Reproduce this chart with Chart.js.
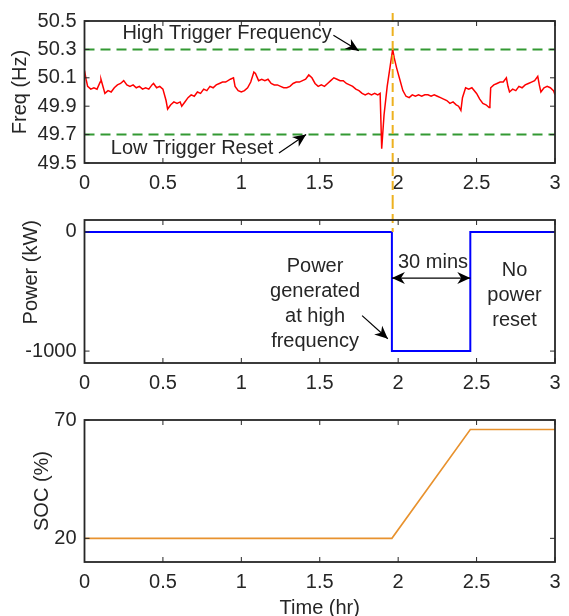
<!DOCTYPE html>
<html>
<head>
<meta charset="utf-8">
<script src="https://cdn.jsdelivr.net/npm/chart.js@4.4.1/dist/chart.umd.min.js"></script>
<style>
  html, body { margin: 0; padding: 0; background: #fff; overflow: hidden; }
  #wrap { position: relative; width: 569px; height: 616px; }
  .panel { position: absolute; left: 0; width: 569px; }
</style>
</head>
<body>
<div id="wrap">
  <div class="panel" style="top:0;height:200px"><canvas id="chart-freq"></canvas></div>
  <div class="panel" style="top:200px;height:200px"><canvas id="chart-power"></canvas></div>
  <div class="panel" style="top:400px;height:220px"><canvas id="chart-soc"></canvas></div>
</div>
<script>
// grid frequency trace (hr, Hz)
const TIME_FREQ = [
  0.00, 0.01, 0.02, 0.04, 0.06, 0.08, 0.10, 0.105, 0.12, 0.13, 0.15, 0.17, 0.19, 0.21, 0.23, 0.25,
  0.27, 0.29, 0.31, 0.33, 0.35, 0.37, 0.39, 0.41, 0.43, 0.44, 0.46, 0.48, 0.50, 0.52, 0.53, 0.55,
  0.57, 0.59, 0.61, 0.62, 0.64, 0.66, 0.68, 0.70, 0.72, 0.74, 0.76, 0.78, 0.80, 0.82, 0.84, 0.86,
  0.88, 0.90, 0.93, 0.95, 0.96, 0.98, 1.00, 1.02, 1.04, 1.06, 1.08, 1.09, 1.11, 1.13, 1.15, 1.17,
  1.19, 1.21, 1.23, 1.25, 1.27, 1.29, 1.31, 1.33, 1.35, 1.37, 1.39, 1.41, 1.43, 1.45, 1.47, 1.49,
  1.51, 1.53, 1.55, 1.57, 1.59, 1.61, 1.63, 1.65, 1.67, 1.69, 1.71, 1.73, 1.75, 1.77, 1.79, 1.81,
  1.83, 1.85, 1.87, 1.885, 1.895, 1.91, 1.93, 1.95, 1.965, 1.975, 1.99, 2.01, 2.03, 2.05, 2.07, 2.09,
  2.11, 2.13, 2.15, 2.17, 2.19, 2.21, 2.23, 2.25, 2.27, 2.29, 2.31, 2.33, 2.35, 2.37, 2.385, 2.40,
  2.41, 2.43, 2.45, 2.47, 2.50, 2.52, 2.54, 2.56, 2.58, 2.585, 2.59, 2.61, 2.63, 2.65, 2.67, 2.69,
  2.70, 2.71, 2.73, 2.75, 2.77, 2.79, 2.81, 2.83, 2.85, 2.87, 2.89, 2.90, 2.91, 2.93, 2.95, 2.97,
  2.99, 3.00
];
const FREQ = [
  50.15, 50.09, 50.04, 50.02, 50.03, 50.02, 50.07, 50.09, 50.03, 49.99, 50.01, 50.00, 50.03, 50.05, 50.06, 50.08,
  50.05, 50.04, 50.05, 50.03, 50.04, 50.02, 50.03, 50.02, 50.05, 50.06, 50.03, 50.04, 50.02, 49.94, 49.88, 49.91,
  49.93, 49.92, 49.93, 49.90, 49.93, 49.96, 49.98, 49.97, 50.00, 49.99, 50.02, 50.01, 50.04, 50.03, 50.05, 50.06,
  50.07, 50.07, 50.09, 50.10, 50.04, 50.01, 50.00, 50.01, 50.03, 50.07, 50.14, 50.13, 50.08, 50.09, 50.08, 50.09,
  50.06, 50.05, 50.05, 50.04, 50.03, 50.03, 50.04, 50.06, 50.07, 50.07, 50.08, 50.09, 50.12, 50.10, 50.06, 50.04,
  50.05, 50.04, 50.06, 50.08, 50.10, 50.09, 50.08, 50.08, 50.06, 50.05, 50.04, 50.02, 50.01, 49.99, 49.98, 49.99,
  49.98, 49.99, 49.98, 49.99, 49.60, 49.84, 50.04, 50.19, 50.30, 50.24, 50.17, 50.09, 50.01, 49.97, 49.96, 49.98,
  49.97, 49.98, 49.97, 49.98, 49.98, 49.97, 49.98, 49.97, 49.96, 49.95, 49.94, 49.92, 49.93, 49.91, 49.90, 49.87,
  49.96, 50.03, 50.02, 50.03, 49.99, 49.95, 49.92, 49.91, 49.89, 49.91, 50.03, 50.05, 50.06, 50.07, 50.07, 50.10,
  50.04, 50.00, 50.02, 50.01, 50.04, 50.03, 50.05, 50.06, 50.07, 50.08, 50.11, 50.05, 50.00, 50.03, 50.04, 50.03,
  50.01, 49.98
];
const HIGH_TRIGGER = 50.3;
const LOW_RESET = 49.7;
const T_TRIGGER = 1.965;

// battery power step (hr, kW)
const TIME_POWER = [0, 1.96, 1.96, 2.46, 2.46, 3];
const POWER = [0, 0, -1000, -1000, 0, 0];

// state of charge (hr, %)
const TIME_SOC = [0, 1.96, 2.46, 3];
const SOC = [20, 20, 66, 66];

const X_TICKS = [0, 0.5, 1, 1.5, 2, 2.5, 3];
const FREQ_TICKS = [49.5, 49.7, 49.9, 50.1, 50.3, 50.5];
const POWER_TICKS = [-1000, 0];
const SOC_TICKS = [20, 70];

const FONT_FAMILY = "'Liberation Sans', Arial, Helvetica, sans-serif";
const FONT = { family: FONT_FAMILY, size: 20 };
const TEXT = '#262626';
const AXIS_LEFT = 84.5;

function points(xs, ys) {
    return xs.map((x, i) => ({ x: x, y: ys[i] }));
}

function xScale(height, title) {
    return {
        type: 'linear', min: 0, max: 3,
        grid: { display: false, drawTicks: false },
        border: { display: false },
        afterBuildTicks: s => { s.ticks = X_TICKS.map(v => ({ value: v })); },
        afterFit: s => { s.height = height; },
        ticks: { padding: 8, color: TEXT, font: FONT, autoSkip: false, maxRotation: 0, callback: v => String(v) },
        title: title
            ? { display: true, text: title, color: TEXT, font: FONT, padding: { top: 0, bottom: 0 } }
            : { display: false }
    };
}

function yScale(min, max, ticks, digits, title, titlePad, titleAlign) {
    return {
        type: 'linear', min: min, max: max,
        grid: { display: false, drawTicks: false },
        border: { display: false },
        afterBuildTicks: s => { s.ticks = ticks.map(v => ({ value: v })); },
        afterFit: s => { s.width = AXIS_LEFT; },
        ticks: { padding: 8, color: TEXT, font: FONT, autoSkip: false, callback: v => v.toFixed(digits) },
        title: {
            display: true, text: title, color: TEXT, font: FONT,
            align: titleAlign || 'center', padding: { top: titlePad, bottom: 0 }
        }
    };
}

// MATLAB-like box with inward tick marks on all four sides
const boxPlugin = {
    id: 'matlabBox',
    afterDraw(chart) {
        const { ctx, chartArea: a, scales } = chart;
        const len = 5;
        ctx.save();
        ctx.strokeStyle = TEXT;
        ctx.lineWidth = 1;
        ctx.beginPath();
        scales.x.ticks.forEach(t => {
            const px = scales.x.getPixelForValue(t.value);
            ctx.moveTo(px, a.bottom); ctx.lineTo(px, a.bottom - len);
            ctx.moveTo(px, a.top); ctx.lineTo(px, a.top + len);
        });
        scales.y.ticks.forEach(t => {
            const py = scales.y.getPixelForValue(t.value);
            ctx.moveTo(a.left, py); ctx.lineTo(a.left + len, py);
            ctx.moveTo(a.right, py); ctx.lineTo(a.right - len, py);
        });
        ctx.stroke();
        ctx.lineWidth = 1.8;
        ctx.strokeRect(a.left, a.top, a.width, a.height);
        ctx.restore();
    }
};

function arrowHead(ctx, x0, y0, x1, y1) {
    const ang = Math.atan2(y1 - y0, x1 - x0);
    const L = 13, W = 6;
    ctx.beginPath();
    ctx.moveTo(x1, y1);
    ctx.lineTo(x1 - L * Math.cos(ang) + W * Math.sin(ang), y1 - L * Math.sin(ang) - W * Math.cos(ang));
    ctx.lineTo(x1 - L * 0.7 * Math.cos(ang), y1 - L * 0.7 * Math.sin(ang));
    ctx.lineTo(x1 - L * Math.cos(ang) - W * Math.sin(ang), y1 - L * Math.sin(ang) + W * Math.cos(ang));
    ctx.closePath();
    ctx.fill();
}

// text notes and arrows, placed in data units
function notesPlugin(notes) {
    return {
        id: 'notes',
        afterDraw(chart) {
            const { ctx, scales } = chart;
            const px = v => scales.x.getPixelForValue(v);
            const py = v => scales.y.getPixelForValue(v);
            ctx.save();
            ctx.fillStyle = TEXT;
            ctx.font = `20px ${FONT_FAMILY}`;
            ctx.textAlign = 'center';
            ctx.textBaseline = 'middle';
            (notes.texts || []).forEach(n => {
                const cy = py(n.y);
                const off = (n.lines.length - 1) / 2;
                n.lines.forEach((line, i) => ctx.fillText(line, px(n.x), cy + (i - off) * 25));
            });
            ctx.strokeStyle = '#000';
            ctx.fillStyle = '#000';
            ctx.lineWidth = 1.2;
            (notes.arrows || []).forEach(a => {
                const x0 = px(a.from[0]), y0 = py(a.from[1]);
                const x1 = px(a.to[0]), y1 = py(a.to[1]);
                ctx.beginPath(); ctx.moveTo(x0, y0); ctx.lineTo(x1, y1); ctx.stroke();
                arrowHead(ctx, x0, y0, x1, y1);
                if (a.both) arrowHead(ctx, x1, y1, x0, y0);
            });
            ctx.restore();
        }
    };
}

// orange dashed marker at the trigger time, spanning the top two panels
function triggerPlugin(fromTop, toZero) {
    return {
        id: 'trigger',
        afterDatasetsDraw(chart) {
            const { ctx, chartArea: a, scales } = chart;
            const x = scales.x.getPixelForValue(T_TRIGGER);
            const y0 = fromTop ? a.top - 8 : 0;
            const y1 = toZero ? scales.y.getPixelForValue(0) : chart.height;
            ctx.save();
            ctx.strokeStyle = '#EDB120';
            ctx.lineWidth = 2;
            ctx.setLineDash([9, 5]);
            ctx.beginPath(); ctx.moveTo(x, y0); ctx.lineTo(x, y1); ctx.stroke();
            ctx.restore();
        }
    };
}

function lineSet(data, color, width, dash) {
    return {
        data: data, borderColor: color, borderWidth: width, borderDash: dash || [],
        pointRadius: 0, tension: 0, fill: false
    };
}

function baseOptions(padTop, x, y) {
    return {
        responsive: true,
        maintainAspectRatio: false,
        animation: false,
        layout: { padding: { top: padTop, right: 14, left: 0, bottom: 0 } },
        plugins: { legend: { display: false }, tooltip: { enabled: false } },
        scales: { x: x, y: y }
    };
}

new Chart(document.getElementById('chart-freq'), {
    type: 'line',
    data: {
        datasets: [
            lineSet(points(TIME_FREQ, FREQ), '#FF0000', 1.5),
            lineSet(points([0, 3], [HIGH_TRIGGER, HIGH_TRIGGER]), '#339933', 2, [10, 6]),
            lineSet(points([0, 3], [LOW_RESET, LOW_RESET]), '#339933', 2, [10, 6])
        ]
    },
    options: baseOptions(21, xScale(37), yScale(49.5, 50.5, FREQ_TICKS, 1, 'Freq (Hz)', 8)),
    plugins: [boxPlugin, triggerPlugin(true, false), notesPlugin({
        texts: [
            { x: 0.909, y: 50.41, lines: ['High Trigger Frequency'] },
            { x: 0.686, y: 49.605, lines: ['Low Trigger Reset'] }
        ],
        arrows: [
            { from: [1.587, 50.40], to: [1.749, 50.29] },
            { from: [1.24, 49.57], to: [1.413, 49.70] }
        ]
    })]
});

new Chart(document.getElementById('chart-power'), {
    type: 'line',
    data: { datasets: [lineSet(points(TIME_POWER, POWER), '#0000FF', 2)] },
    options: baseOptions(20, xScale(37), yScale(-1100, 100, POWER_TICKS, 0, 'Power (kW)', 19, 'end')),
    plugins: [boxPlugin, triggerPlugin(false, true), notesPlugin({
        texts: [
            { x: 2.222, y: -256, lines: ['30 mins'] },
            { x: 1.47, y: -608, lines: ['Power', 'generated', 'at high', 'frequency'] },
            { x: 2.742, y: -535, lines: ['No', 'power', 'reset'] }
        ],
        arrows: [
            { from: [1.96, -387], to: [2.46, -387], both: true },
            { from: [1.77, -702], to: [1.934, -897] }
        ]
    })]
});

new Chart(document.getElementById('chart-soc'), {
    type: 'line',
    data: { datasets: [lineSet(points(TIME_SOC, SOC), '#E8922E', 1.6)] },
    options: baseOptions(19, xScale(58, 'Time (hr)'), yScale(10, 70, SOC_TICKS, 0, 'SOC (%)', 30)),
    plugins: [boxPlugin]
});
</script>
</body>
</html>
